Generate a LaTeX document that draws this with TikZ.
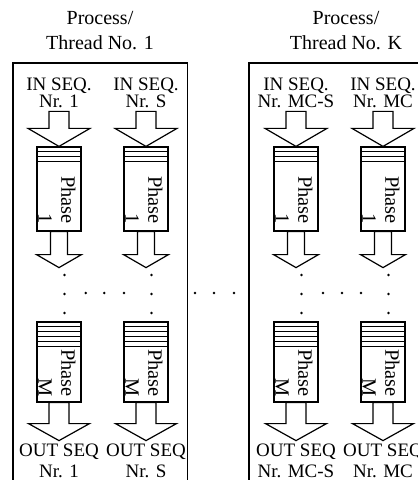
\documentclass[tikz,border=0pt]{standalone}
\usepackage{fontspec}
\setmainfont{Liberation Serif}
\usetikzlibrary{calc}

\tikzset{
  frame/.style={draw, line width=0.9pt},
  phase/.style={draw, line width=0.6pt, fill=white, minimum width=22pt, inner sep=0pt},
  stripe/.style={line width=0.5pt},
  blockarr/.style={draw, line width=0.6pt, fill=white, line join=miter},
  title/.style={align=center, inner sep=0pt, font=\fontsize{10}{12.5}\selectfont},
  inlbl/.style={align=center, inner sep=0pt, font=\fontsize{9.5}{8.5}\selectfont},
  outlbl/.style={align=center, inner sep=0pt, font=\fontsize{9.5}{10.5}\selectfont},
  ptxt/.style={align=right, inner sep=0pt, rotate=-90, font=\fontsize{10.2}{11.5}\selectfont},
}

% block arrow: start, shaft half width, shaft length, head half width, head length
\newcommand\blockarrow[5]{%
  \draw[blockarr] (#1) ++(-#2,0) -- ++(0,#3) -- ++(#2-#4,0) -- ++(#4,#5)
    -- ++(#4,-#5) -- ++(#2-#4,0) -- ++(0,-#3) -- cycle;}

\begin{document}
\begin{tikzpicture}[x=0.5pt, y=-0.5pt]
    \useasboundingbox (0,0) rectangle (417,480);

    \node[title] (t1) at (100,30.5) {Process/\\Thread No. 1};
    \node[title] (tK) at (346,30.5) {Process/\\Thread No. K};
    \draw[frame] (12.7,63) rectangle (187.5,500);
    \draw[frame] (249,63) rectangle (443,500);

    \foreach \i/\cx/\nr in {1/59/1, 2/146/S, 3/296/MC-S, 4/383/MC} {
        \node[inlbl] (in\i) at (\cx,93) {IN SEQ.\\Nr. \nr};
        \node[phase, minimum height=42pt] (pa\i) at (\cx,189) {};
        \node[phase, minimum height=40pt] (pm\i) at (\cx,362) {};
        \foreach \s in {1,2,3}
            \draw[stripe] ($(pa\i.north west)+(0,5*\s)$) -- ($(pa\i.north east)+(0,5*\s)$);
        \foreach \s in {1,...,5}
            \draw[stripe] ($(pm\i.north west)+(0,5*\s)$) -- ($(pm\i.north east)+(0,5*\s)$);
        \node[ptxt] (ta\i) at ($(pa\i.center)+(-2,11)$) {Phase\\1};
        \node[ptxt] (tm\i) at ($(pm\i.center)+(-2,11)$) {Phase\\M};
        \node[outlbl] (out\i) at (\cx,461) {OUT SEQ\\Nr. \nr};
        \blockarrow{$(pa\i.north)+(0,-35)$}{10}{17}{31}{18}
        \blockarrow{pa\i.south}{8.5}{23}{22.5}{13}
        \blockarrow{pm\i.south}{10}{21}{30.5}{17}
        \foreach \y in {275,294,313}
            \fill (\cx+5.5,\y) circle (1.4);
    }

    % dots between the columns and between the processes
    \foreach \x in {85.7,104.3,124,195,214,234,323,342,361}
        \fill (\x,293) circle (1.4);
\end{tikzpicture}
\end{document}
